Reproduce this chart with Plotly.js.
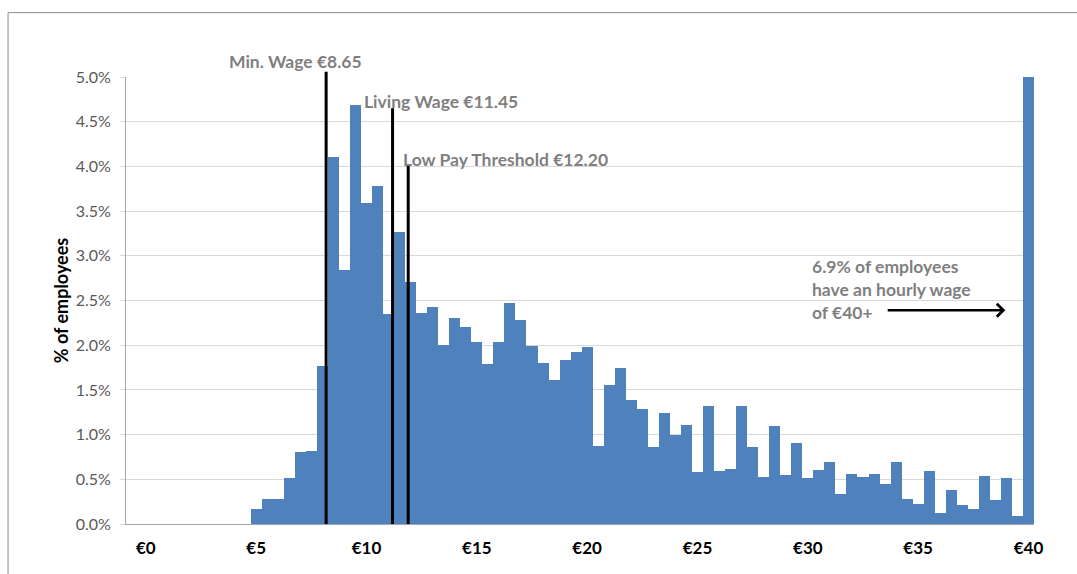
<!DOCTYPE html>
<html>
<head>
<meta charset="utf-8">
<script src="https://cdn.plot.ly/plotly-3.0.1.min.js"></script>
<style>
  html, body { margin: 0; padding: 0; background: #fff; }
  #chart { width: 1077px; height: 574px; }
</style>
</head>
<body>
<div id="chart"></div>
<script>
// Lower bound of each hourly-wage bin (euro); last bin is €40+
const wageBins = [
  5.0, 5.5, 6.0, 6.5, 7.0, 7.5, 8.0, 8.5, 9.0, 9.5,
  10.0, 10.5, 11.0, 11.5, 12.0, 12.5, 13.0, 13.5, 14.0, 14.5,
  15.0, 15.5, 16.0, 16.5, 17.0, 17.5, 18.0, 18.5, 19.0, 19.5,
  20.0, 20.5, 21.0, 21.5, 22.0, 22.5, 23.0, 23.5, 24.0, 24.5,
  25.0, 25.5, 26.0, 26.5, 27.0, 27.5, 28.0, 28.5, 29.0, 29.5,
  30.0, 30.5, 31.0, 31.5, 32.0, 32.5, 33.0, 33.5, 34.0, 34.5,
  35.0, 35.5, 36.0, 36.5, 37.0, 37.5, 38.0, 38.5, 39.0, 39.5,
  40.0
];
// % of employees in each bin
const pctEmployees = [
  0.17, 0.28, 0.28, 0.51, 0.81, 0.82, 1.77, 4.11, 2.84, 4.69,
  3.59, 3.78, 2.35, 3.27, 2.71, 2.36, 2.43, 2.00, 2.30, 2.20,
  2.04, 1.79, 2.04, 2.47, 2.28, 1.99, 1.80, 1.61, 1.83, 1.92,
  1.98, 0.87, 1.55, 1.74, 1.39, 1.29, 0.86, 1.24, 0.99, 1.11,
  0.58, 1.32, 0.59, 0.61, 1.32, 0.86, 0.53, 1.10, 0.55, 0.91,
  0.51, 0.60, 0.69, 0.34, 0.56, 0.53, 0.56, 0.45, 0.69, 0.28,
  0.22, 0.59, 0.12, 0.38, 0.21, 0.17, 0.54, 0.27, 0.51, 0.09,
  6.9
];
const binWidth = 0.5;
const yMax = 5;
// x-axis labels (euro)
const tickEuro = [0, 5, 10, 15, 20, 25, 30, 35, 40];
const tickLabels = ['€0', '€5', '€10', '€15', '€20', '€25', '€30', '€35', '€40'];
// Reference lines: label, position as drawn on the chart, line top (%)
const refLabels = ['Min. Wage €8.65', 'Living Wage €11.45', 'Low Pay Threshold €12.20'];
const refX = [8.42, 11.43, 12.14];
const refTop = [5.06, 4.65, 4.02];
const noteText = '6.9% of employees<br>have an hourly wage<br>of €40+';

const FONT = 'Lato, "Open Sans", sans-serif';
const GRAYTXT = '#7f7f7f';
const ANNFONT = { family: FONT, size: 17.5, color: GRAYTXT, weight: 700 };

const trace = {
  type: 'bar',
  x: wageBins.map(b => b + binWidth / 2),
  y: pctEmployees,
  width: binWidth,
  marker: { color: '#4f81bd', line: { width: 0 } },
  hoverinfo: 'skip'
};

const shapes = [
  // outer chart border
  { type: 'rect', xref: 'paper', yref: 'paper', x0: -0.1299, x1: 1.06, y0: -0.3, y1: 1.144,
    line: { color: '#8c8c8c', width: 1 }, fillcolor: 'rgba(0,0,0,0)', layer: 'below' }
];
refX.forEach((xv, i) => {
  shapes.push({ type: 'line', xref: 'x', yref: 'paper', x0: xv, x1: xv, y0: 0, y1: refTop[i] / yMax,
    line: { color: '#000000', width: 3 } });
});

const annotations = [
  { x: 7.05, y: 5.17 / yMax, xref: 'x', yref: 'paper', text: refLabels[0], showarrow: false,
    xanchor: 'center', yanchor: 'middle', font: ANNFONT },
  { x: 10.05, y: 4.73, xref: 'x', yref: 'y', text: refLabels[1], showarrow: false,
    xanchor: 'left', yanchor: 'middle', font: ANNFONT },
  { x: 11.81, y: 4.08, xref: 'x', yref: 'y', text: refLabels[2], showarrow: false,
    xanchor: 'left', yanchor: 'middle', font: ANNFONT },
  { x: 30.33, y: 2.62, xref: 'x', yref: 'y', text: noteText, showarrow: false, align: 'left',
    xanchor: 'left', yanchor: 'middle', font: ANNFONT },
  { x: 39.2, y: 2.39, ax: 33.8, ay: 2.39, xref: 'x', yref: 'y', axref: 'x', ayref: 'y',
    text: '', showarrow: true, arrowhead: 4, arrowsize: 1, arrowwidth: 2.5, arrowcolor: '#000000' }
];

const layout = {
  width: 1077,
  height: 574,
  margin: { l: 126, r: 42.5, t: 77, b: 50 },
  paper_bgcolor: '#ffffff',
  plot_bgcolor: '#ffffff',
  showlegend: false,
  bargap: 0,
  xaxis: {
    range: [-0.65, 40.5],
    tickmode: 'array',
    tickvals: tickEuro.map(v => v + binWidth / 2),
    ticktext: tickLabels,
    showgrid: false,
    zeroline: false,
    showline: true,
    linecolor: '#a6a6a6',
    linewidth: 1,
    ticks: '',
    ticklabelstandoff: 9,
    tickfont: { family: FONT, size: 17, color: '#000000', weight: 700 },
    fixedrange: true
  },
  yaxis: {
    range: [0, yMax],
    tickmode: 'linear',
    tick0: 0,
    dtick: 0.5,
    tickformat: '.1f',
    ticksuffix: '%',
    showgrid: true,
    gridcolor: '#d9d9d9',
    gridwidth: 1,
    zeroline: false,
    showline: true,
    linecolor: '#a6a6a6',
    linewidth: 1,
    ticks: 'outside',
    ticklen: 5,
    tickcolor: '#d9d9d9',
    ticklabelstandoff: 6,
    tickfont: { family: FONT, size: 16, color: '#595959' },
    title: { text: '% of employees', font: { family: FONT, size: 18, color: '#000000', weight: 700 }, standoff: 2 },
    fixedrange: true
  },
  shapes: shapes,
  annotations: annotations
};

Plotly.newPlot('chart', [trace], layout, { displayModeBar: false, staticPlot: true });
</script>
</body>
</html>
